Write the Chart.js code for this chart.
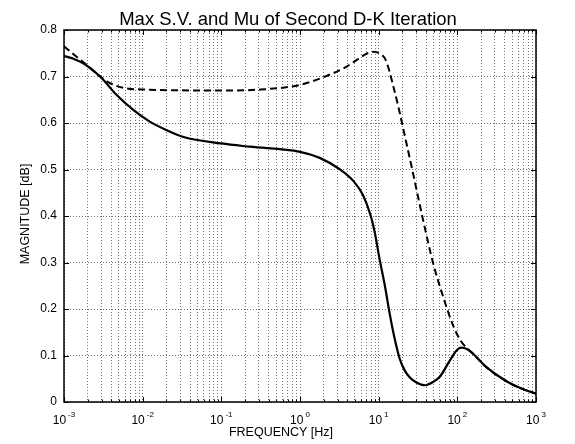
<!DOCTYPE html>
<html>
<head>
<meta charset="utf-8">
<script src="https://cdn.jsdelivr.net/npm/chart.js@4"></script>
<style>
  html, body { margin: 0; padding: 0; background: #fff; }
</style>
</head>
<body>
<canvas id="myChart" width="575" height="444"></canvas>
<script>
// frequencies in Hz, magnitudes
const solidFreq = [0.001, 0.00132, 0.00178, 0.00288, 0.00468, 0.00759, 0.0123, 0.02, 0.0331, 0.1, 0.229, 1, 1.78, 3.24, 4.79, 6.31, 7.94, 8.91, 10.2, 12.0, 13.8, 15.8, 18.6, 21.4, 25.1, 30.2, 38.9, 49.0, 60.3, 79.4, 97.7, 112, 132, 158, 234, 427, 631, 1000];
const solidMag = [0.744, 0.738, 0.728, 0.700, 0.660, 0.628, 0.603, 0.585, 0.570, 0.556, 0.549, 0.538, 0.525, 0.500, 0.475, 0.445, 0.400, 0.365, 0.310, 0.250, 0.190, 0.140, 0.092, 0.068, 0.052, 0.042, 0.036, 0.043, 0.055, 0.088, 0.111, 0.117, 0.114, 0.104, 0.075, 0.044, 0.030, 0.018];

const dashFreq = [0.001, 0.00132, 0.00178, 0.00288, 0.0038, 0.00562, 0.01, 0.1, 0.316, 1, 2.63, 3.98, 5.75, 7.24, 8.91, 10.5, 12.0, 13.5, 15.5, 17.8, 20.4, 27.5, 36.3, 49.0, 66.1, 89.1, 112, 132, 158, 234, 427, 631, 1000];
const dashMag = [0.765, 0.748, 0.730, 0.700, 0.686, 0.676, 0.672, 0.670, 0.672, 0.682, 0.707, 0.722, 0.740, 0.750, 0.753, 0.748, 0.739, 0.715, 0.676, 0.635, 0.590, 0.490, 0.395, 0.300, 0.226, 0.163, 0.130, 0.116, 0.104, 0.075, 0.044, 0.030, 0.018];

const decades = [-3, -2, -1, 0, 1, 2, 3];
const yTicks = [0, 0.1, 0.2, 0.3, 0.4, 0.5, 0.6, 0.7, 0.8];

const titleText = 'Max S.V. and Mu of Second D-K Iteration';
const xLabel = 'FREQUENCY [Hz]';
const yLabel = 'MAGNITUDE [dB]';

const FONT = '"Liberation Sans", Arial, Helvetica, sans-serif';

const toPoints = (xs, ys) => xs.map((x, i) => ({ x: x, y: ys[i] }));

// all log ticks 1..9 x 10^n
const logTicks = () => {
  const t = [];
  for (let n = -3; n < 3; n++) {
    for (let m = 1; m < 10; m++) t.push({ value: m * Math.pow(10, n) });
  }
  t.push({ value: 1000 });
  return t;
};

const matlabAxes = {
  id: 'matlabAxes',
  afterDraw(chart) {
    const ctx = chart.ctx;
    const a = chart.chartArea;
    const xs = chart.scales.x;
    const ys = chart.scales.y;
    ctx.save();
    ctx.strokeStyle = '#000';
    ctx.lineWidth = 1;
    // inward tick marks
    ctx.beginPath();
    logTicks().forEach(t => {
      const px = Math.round(xs.getPixelForValue(t.value)) + 0.5;
      const sig = t.value / Math.pow(10, Math.floor(Math.log10(t.value) + 1e-9));
      const len = Math.abs(sig - 1) < 1e-6 ? 5 : 2.5;
      ctx.moveTo(px, a.bottom); ctx.lineTo(px, a.bottom - len);
      ctx.moveTo(px, a.top); ctx.lineTo(px, a.top + len);
    });
    yTicks.forEach(v => {
      const py = Math.round(ys.getPixelForValue(v)) + 0.5;
      ctx.moveTo(a.left, py); ctx.lineTo(a.left + 5, py);
      ctx.moveTo(a.right, py); ctx.lineTo(a.right - 5, py);
    });
    ctx.stroke();
    // box
    ctx.lineWidth = 1.5;
    ctx.strokeRect(a.left, a.top, a.right - a.left, a.bottom - a.top);

    // x tick labels 10^n
    ctx.fillStyle = '#000';
    ctx.textBaseline = 'alphabetic';
    ctx.textAlign = 'left';
    decades.forEach(n => {
      const px = xs.getPixelForValue(Math.pow(10, n));
      ctx.font = '12px ' + FONT;
      const w10 = ctx.measureText('10').width;
      ctx.font = '8px ' + FONT;
      const e = String(n);
      const we = ctx.measureText(e).width;
      const start = px - (w10 + 2 + we) / 2;
      ctx.font = '12px ' + FONT;
      ctx.fillText('10', start, 424);
      ctx.font = '8px ' + FONT;
      ctx.fillText(e, start + w10 + 2, 417);
    });

    // title and axis labels
    ctx.textAlign = 'center';
    ctx.font = '18.5px ' + FONT;
    ctx.fillText(titleText, 288, 25);
    ctx.font = '12.5px ' + FONT;
    ctx.fillText(xLabel, 281, 436);
    ctx.translate(29, 214);
    ctx.rotate(-Math.PI / 2);
    ctx.fillText(yLabel, 0, 0);
    ctx.restore();
  }
};

const config = {
  type: 'line',
  data: {
    datasets: [
      {
        label: 'Max S.V.',
        data: toPoints(dashFreq, dashMag),
        borderColor: '#000',
        borderWidth: 2,
        borderDash: [7, 4],
        pointRadius: 0,
        cubicInterpolationMode: 'monotone',
        fill: false
      },
      {
        label: 'Mu',
        data: toPoints(solidFreq, solidMag),
        borderColor: '#000',
        borderWidth: 2.2,
        pointRadius: 0,
        cubicInterpolationMode: 'monotone',
        fill: false
      }
    ]
  },
  options: {
    responsive: false,
    animation: false,
    layout: { padding: { top: 30, right: 39, left: 0, bottom: 0 } },
    plugins: {
      legend: { display: false },
      title: { display: false },
      tooltip: { enabled: false }
    },
    scales: {
      x: {
        type: 'logarithmic',
        min: 0.001,
        max: 1000,
        afterBuildTicks: s => { s.ticks = logTicks(); },
        afterFit: s => { s.height = 42; },
        ticks: { display: false },
        grid: { color: 'rgba(0,0,0,0.55)', lineWidth: 1, drawTicks: false },
        border: { display: false, dash: [1, 2] }
      },
      y: {
        type: 'linear',
        min: 0,
        max: 0.8,
        afterBuildTicks: s => { s.ticks = yTicks.map(v => ({ value: v })); },
        afterFit: s => { s.width = 64; },
        ticks: {
          padding: 7,
          color: '#000',
          font: { family: FONT, size: 12 },
          callback: v => String(Math.round(v * 10) / 10)
        },
        grid: { color: 'rgba(0,0,0,0.55)', lineWidth: 1, drawTicks: false },
        border: { display: false, dash: [1, 2] }
      }
    }
  },
  plugins: [matlabAxes]
};

const myChart = new Chart(document.getElementById('myChart'), config);
</script>
</body>
</html>
